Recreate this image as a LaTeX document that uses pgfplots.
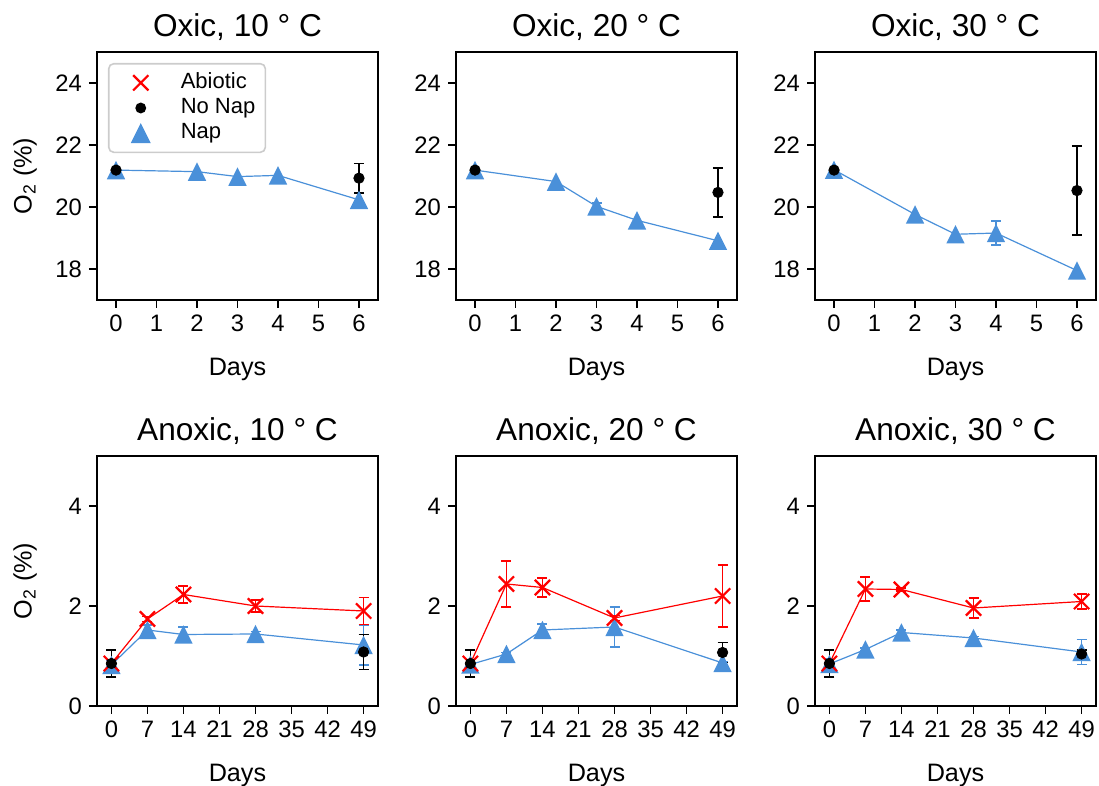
\documentclass[border=0pt]{standalone}
\usepackage{fontspec}
\setmainfont{Liberation Sans}
\usepackage{pgfplots}
\pgfplotsset{compat=1.18}
\definecolor{napblue}{RGB}{74,144,217}
\definecolor{abred}{RGB}{255,0,0}
\pgfdeclareplotmark{mpltri}{%
 \pgfpathmoveto{\pgfqpoint{0pt}{\pgfplotmarksize}}%
 \pgfpathlineto{\pgfqpoint{-\pgfplotmarksize}{-\pgfplotmarksize}}%
 \pgfpathlineto{\pgfqpoint{\pgfplotmarksize}{-\pgfplotmarksize}}%
 \pgfpathclose\pgfusepathqfill}
\pgfplotsset{
 panel/.style={
  scale only axis, width=140.5pt, height=124pt, anchor=south west,
  axis line style={line width=0.9pt, black},
  tick align=outside, major tick length=4pt,
  tick style={line width=0.8pt, black},
  xtick pos=left, ytick pos=left,
  ticklabel style={font=\fontsize{11.9}{12}\selectfont},
  /pgf/number format/assume math mode=true,
  title style={at={(0.5,1)}, anchor=base, yshift=1.5pt, font=\fontsize{15.8}{16}\selectfont},
  xlabel={Days},
  xlabel style={at={(0.5,0)}, anchor=base, yshift=-38pt, font=\fontsize{12.6}{13}\selectfont},
  ylabel style={at={(axis description cs:-0.256,0.5)}, anchor=center, rotate=0, font=\fontsize{12.6}{13}\selectfont},
  clip=false,
 },
 top/.style={panel, xmin=-0.47, xmax=6.47, ymin=17, ymax=25, xtick={0,...,6}, ytick={18,20,22,24}},
 bot/.style={panel, height=125pt, xmin=-2.8, xmax=51.8, ymin=0, ymax=5, xtick={0,7,...,49}, ytick={0,2,4}},
 eb/.style={error bars/y dir=both, error bars/y explicit, error bars/error bar style={line width=0.75pt},
   error bars/error mark options={rotate=90, mark size=2.5pt, line width=0.9pt}},
 nap/.style={napblue, line width=0.6pt, mark=mpltri, mark size=4.6pt, mark options={solid}, eb},
 nonap/.style={black, only marks, mark=*, mark size=2.6pt, eb},
 abio/.style={abred, line width=0.6pt, mark=x, mark size=5.4pt, mark options={solid, line width=1.1pt}, eb},
}
\begin{document}
\begin{tikzpicture}
\path[use as bounding box] (0,0) rectangle (549.5pt,393pt);
% ---------------- Oxic 10
\begin{axis}[top, at={(48.5pt,243pt)}, title={Oxic, 10 ° C}, ylabel={O\textsubscript{2} (\%)},
  legend style={at={(0.039,0.956)}, anchor=north west, draw=black!20, line width=0.8pt, rounded corners=2.5pt,
   font=\fontsize{11}{12}\selectfont, inner xsep=4pt, inner ysep=3.5pt, row sep=0.5pt,
   nodes={inner sep=1pt, text height=7.8pt, text depth=2.3pt}, cells={anchor=west}},
  legend image code/.code={\path[draw=none, fill=none] (0pt,-3pt) rectangle (24pt,3pt); \draw[#1] plot coordinates {(12pt,0pt)};}]
\addlegendimage{only marks, abred, mark=x, mark size=5.4pt, mark options={line width=1.1pt}}
\addlegendentry{\hspace{7pt}Abiotic}
\addlegendimage{only marks, black, mark=*, mark size=2.3pt}
\addlegendentry{\hspace{7pt}No Nap}
\addlegendimage{only marks, napblue, mark=mpltri, mark size=5pt}
\addlegendentry{\hspace{7pt}Nap}
\addplot[nap, forget plot] coordinates {(0,21.19) (2,21.14) (3,20.98) (4,21.02) (6,20.23)};
\addplot[nonap, forget plot] coordinates {(0,21.19) +- (0,0.04) (6,20.93) +- (0,0.47)};
\end{axis}
% ---------------- Oxic 20
\begin{axis}[top, at={(228pt,243pt)}, title={Oxic, 20 ° C}]
\addplot[nap] coordinates {(0,21.19) (2,20.82) (3,20.02) +- (0,0.1) (4,19.57) (6,18.91)};
\addplot[nonap] coordinates {(0,21.19) +- (0,0.04) (6,20.47) +- (0,0.79)};
\end{axis}
% ---------------- Oxic 30
\begin{axis}[top, at={(407.5pt,243pt)}, title={Oxic, 30 ° C}]
\addplot[nap] coordinates {(0,21.2) (2,19.76) (3,19.12) (4,19.16) +- (0,0.39) (6,17.95)};
\addplot[nonap] coordinates {(0,21.19) +- (0,0.04) (6,20.53) +- (0,1.43)};
\end{axis}
% ---------------- Anoxic 10
\begin{axis}[bot, at={(48.5pt,40pt)}, title={Anoxic, 10 ° C}, ylabel={O\textsubscript{2} (\%)}]
\addplot[nap] coordinates {(0,0.82) +- (0,0.1) (7,1.52) +- (0,0.1) (14,1.43) +- (0,0.15) (28,1.44) +- (0,0.05) (49,1.22) +- (0,0.4)};
\addplot[abio] coordinates {(0,0.85) +- (0,0.02) (7,1.74) +- (0,0.05) (14,2.23) +- (0,0.17) (28,2.0) +- (0,0.12) (49,1.9) +- (0,0.27)};
\addplot[nonap] coordinates {(0,0.85) +- (0,0.27) (49,1.08) +- (0,0.35)};
\end{axis}
% ---------------- Anoxic 20
\begin{axis}[bot, at={(228pt,40pt)}, title={Anoxic, 20 ° C}]
\addplot[nap] coordinates {(0,0.83) +- (0,0.1) (7,1.04) +- (0,0.03) (14,1.52) +- (0,0.12) (28,1.58) +- (0,0.4) (49,0.86) +- (0,0.03)};
\addplot[abio] coordinates {(0,0.85) +- (0,0.02) (7,2.44) +- (0,0.46) (14,2.37) +- (0,0.19) (28,1.76) +- (0,0.05) (49,2.2) +- (0,0.62)};
\addplot[nonap] coordinates {(0,0.85) +- (0,0.27) (49,1.07) +- (0,0.2)};
\end{axis}
% ---------------- Anoxic 30
\begin{axis}[bot, at={(407.5pt,40pt)}, title={Anoxic, 30 ° C}]
\addplot[nap] coordinates {(0,0.84) +- (0,0.1) (7,1.13) +- (0,0.03) (14,1.47) +- (0,0.05) (28,1.36) +- (0,0.03) (49,1.08) +- (0,0.25)};
\addplot[abio] coordinates {(0,0.85) +- (0,0.02) (7,2.34) +- (0,0.24) (14,2.33) +- (0,0.03) (28,1.96) +- (0,0.2) (49,2.09) +- (0,0.15)};
\addplot[nonap] coordinates {(0,0.85) +- (0,0.27) (49,1.04) +- (0,0.08)};
\end{axis}
\end{tikzpicture}
\end{document}
